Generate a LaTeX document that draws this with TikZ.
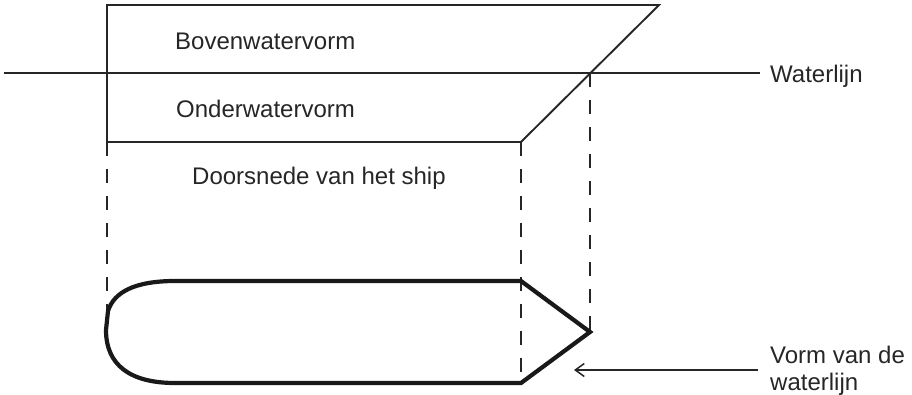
\documentclass[tikz,border=0pt]{standalone}
\usepackage{fontspec}
\setmainfont{Liberation Sans}
\usetikzlibrary{arrows.meta}
\begin{document}
\begin{tikzpicture}[x=1pt,y=-1pt,
  lbl/.style={inner sep=0pt,anchor=base west,font=\fontsize{24}{26}\selectfont,text=black!85},
  thin line/.style={line width=1.5pt,black!85},
  box line/.style={line width=1.9pt,black!85,line join=miter},
  dash line/.style={line width=2.4pt,black!85,dash pattern=on 14pt off 13pt},
  hull/.style={line width=4.2pt,black!90,line join=miter}]
\useasboundingbox (0,0) rectangle (912,394);
\coordinate (tl) at (107,5);
\coordinate (tr) at (659,5);
\coordinate (bl) at (107,142);
\coordinate (br) at (521,142);
\coordinate (wl) at (4,73);
\coordinate (wr) at (760,73);
\coordinate (wx) at (590,73);
\coordinate (hl) at (107,311);
\coordinate (htl) at (521,281);
\coordinate (hbl) at (521,383);
\coordinate (tip) at (590,332);
\coordinate (arrs) at (758,370);
\coordinate (arre) at (574,370);
\draw[box line] (bl) -- (tl) -- (tr) -- (br) -- cycle;
\draw[thin line] (wl) -- (wr);
\draw[dash line] (bl) -- (hl);
\draw[dash line] (br) -- (hbl);
\draw[dash line] (wx) -- (tip);
\draw[hull] (htl) -- (tip) -- (hbl) -- (175,383) .. controls (130,383) and (106,365) .. (106,330) -- (108,311) .. controls (114,292) and (135,281) .. (175,281) -- cycle;
\draw[thin line,-{Straight Barb[length=9pt,width=13pt]}] (arrs) -- (arre);
\node[lbl] (a) at (175,49) {Bovenwatervorm};
\node[lbl] (b) at (176,117) {Onderwatervorm};
\node[lbl] (c) at (192,184) {Doorsnede van het ship};
\node[lbl] (d) at (770,82) {Waterlijn};
\node[lbl] (e) at (770,363) {Vorm van de};
\node[lbl] (f) at (770,390) {waterlijn};
\end{tikzpicture}
\end{document}
